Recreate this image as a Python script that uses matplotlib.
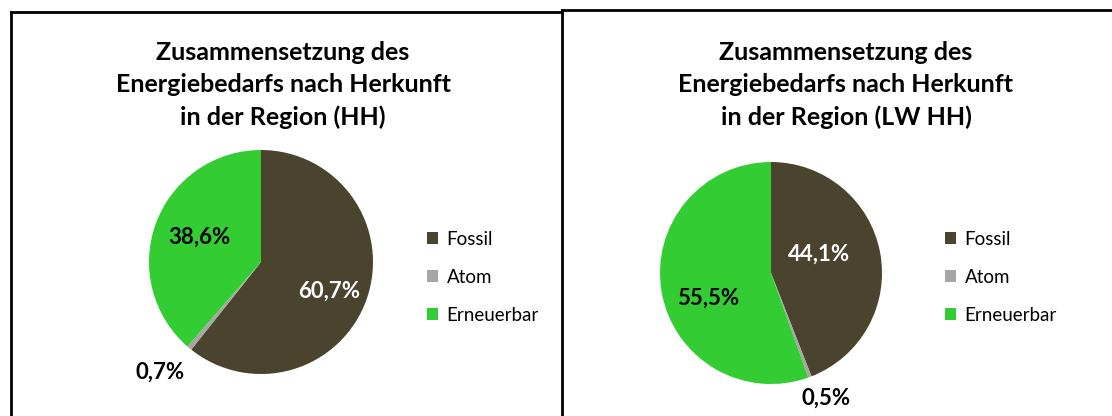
import matplotlib
matplotlib.use("Agg")
import matplotlib.pyplot as plt
from matplotlib.lines import Line2D

plt.rcParams['font.family'] = ['Lato', 'DejaVu Sans']

categories = ["Fossil", "Atom", "Erneuerbar"]
values_hh = [60.7, 0.7, 38.6]
values_lw = [44.1, 0.5, 55.5]
labels_hh = ["60,7%", "0,7%", "38,6%"]
labels_lw = ["44,1%", "0,5%", "55,5%"]
titles = ["Zusammensetzung des\nEnergiebedarfs nach Herkunft\nin der Region (HH)",
          "Zusammensetzung des\nEnergiebedarfs nach Herkunft\nin der Region (LW HH)"]

colors = ["#4A432E", "#A6A6A6", "#33CC33"]
label_colors = ["white", "black", "black"]

W, H = 1112, 416
fig = plt.figure(figsize=(W / 100, H / 100), dpi=100)


def fx(px):
    return px / W


def fy(py):
    return 1 - py / H


# panel borders
lw = 2.0
fig.add_artist(Line2D([fx(10.5), fx(10.5)], [fy(12), 0], color="black", lw=lw))
fig.add_artist(Line2D([fx(10.5), fx(562)], [fy(12), fy(12)], color="black", lw=lw))
fig.add_artist(Line2D([fx(562), fx(562)], [fy(10), 0], color="black", lw=lw))
fig.add_artist(Line2D([fx(562), 1], [fy(10), fy(10)], color="black", lw=lw))

panels = [
    dict(values=values_hh, labels=labels_hh, center=(261, 262), r=112,
         title_x=283, legend_x=427,
         label_pos=[(0.61, -0.26), (-0.90, -0.98), (-0.55, 0.22)]),
    dict(values=values_lw, labels=labels_lw, center=(771, 273), r=111,
         title_x=846, legend_x=945,
         label_pos=[(0.43, 0.17), (0.50, -1.13), (-0.57, -0.23)]),
]

for i, p in enumerate(panels):
    cx, cy = p["center"]
    r = p["r"]
    ax = fig.add_axes([fx(cx - r), fy(cy + r), 2 * r / W, 2 * r / H])
    wedges, _ = ax.pie(p["values"], colors=colors, startangle=90, counterclock=False,
                       radius=1.0, wedgeprops=dict(linewidth=0))
    ax.set_xlim(-1, 1)
    ax.set_ylim(-1, 1)
    ax.set_aspect("equal")
    ax.axis("off")
    for lab, pos, col in zip(p["labels"], p["label_pos"], label_colors):
        ax.text(pos[0], pos[1], lab, ha="center", va="center", fontsize=16,
                fontweight="bold", color=col, clip_on=False)
    fig.text(fx(p["title_x"]), fy(85), titles[i], ha="center", va="center",
             fontsize=18, fontweight="bold", linespacing=1.5)
    fig.legend(wedges, categories, loc="upper left",
               bbox_to_anchor=(fx(p["legend_x"]), fy(231)), frameon=False,
               fontsize=13.5, handlelength=0.6, handleheight=0.6,
               handletextpad=0.45, labelspacing=1.12, borderaxespad=0,
               borderpad=0)

fig.savefig("out.png", dpi=100, facecolor="white")
